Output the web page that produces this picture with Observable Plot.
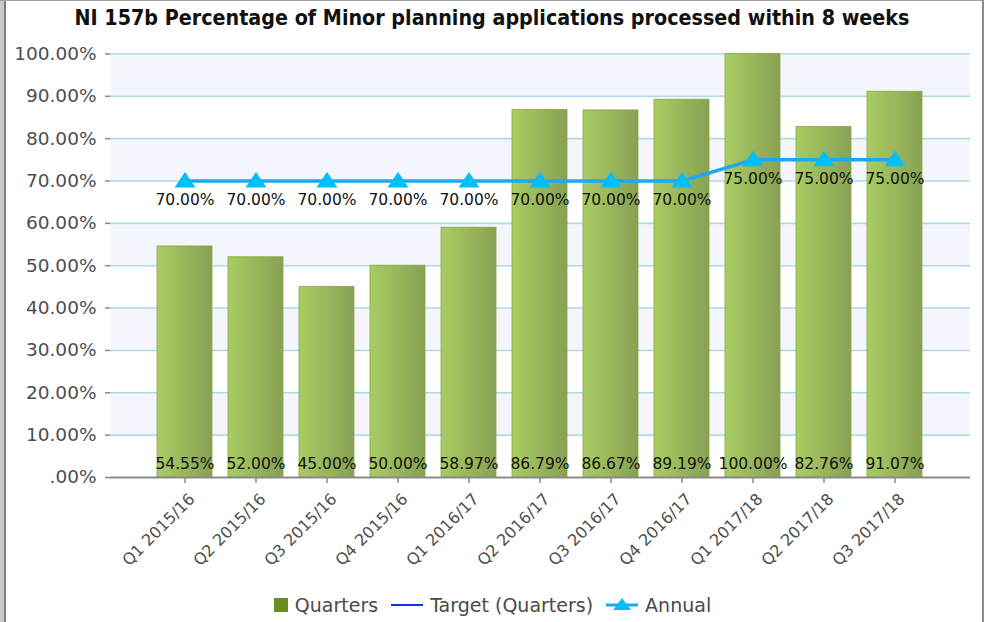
<!DOCTYPE html>
<html>
<head>
<meta charset="utf-8">
<script src="https://cdn.jsdelivr.net/npm/d3@7"></script>
<script src="https://cdn.jsdelivr.net/npm/@observablehq/plot@0.6"></script>
<style>
  html, body { margin: 0; padding: 0; background: #fff; }
  #wrap { position: relative; width: 984px; height: 622px; overflow: hidden; background: #fff; font-family: "DejaVu Sans", sans-serif; }
  #frameL1 { position: absolute; left: 0; top: 0; width: 4px; height: 622px; background: #c9c9c9; }
  #frameL2 { position: absolute; left: 4px; top: 0; width: 2px; height: 622px; background: #7d7d7d; }
  #frameT { position: absolute; left: 0; top: 0; width: 984px; height: 1px; background: #a0a0a0; }
  #frameR { position: absolute; right: 0; top: 0; width: 2px; height: 622px; background: #8c8c8c; }
  #title { position: absolute; left: 0; top: 5px; width: 984px; text-align: center; font-family: "DejaVu Sans Condensed", "DejaVu Sans", sans-serif; font-stretch: condensed; font-weight: bold; font-size: 21.3px; color: #111; white-space: nowrap; }
  #chart { position: absolute; left: 0; top: 0; }
  #legend { position: absolute; left: 0; top: 594px; width: 984px; display: flex; justify-content: center; align-items: center; font-size: 19px; color: #4a4a4a; white-space: nowrap; }
  #legend .item { display: flex; align-items: center; margin: 0 6px; }
  #legend svg { margin-right: 6px; }
</style>
</head>
<body>
<div id="wrap">
  <div id="chart"></div>
  <div id="title"></div>
  <div id="legend"></div>
  <div id="frameL1"></div><div id="frameL2"></div><div id="frameT"></div><div id="frameR"></div>
</div>
<script>
const titleText = "NI 157b Percentage of Minor planning applications processed within 8 weeks";
const categories = ["Q1 2015/16","Q2 2015/16","Q3 2015/16","Q4 2015/16","Q1 2016/17","Q2 2016/17","Q3 2016/17","Q4 2016/17","Q1 2017/18","Q2 2017/18","Q3 2017/18"];
const quarters = [54.55, 52.00, 45.00, 50.00, 58.97, 86.79, 86.67, 89.19, 100.00, 82.76, 91.07];
const annual = [70, 70, 70, 70, 70, 70, 70, 70, 75, 75, 75];
const yTicks = [0, 10, 20, 30, 40, 50, 60, 70, 80, 90, 100];
const seriesNames = ["Quarters", "Target (Quarters)", "Annual"];

const fmt = v => (v === 0 ? ".00" : v.toFixed(2)) + "%";

const rows = categories.map((c, i) => ({cat: c, q: quarters[i], a: annual[i]}));
const bands = yTicks.slice(0, -1).map((t, i) => ({y1: t, y2: yTicks[i + 1], odd: i % 2 === 1})).filter(d => d.odd);

const triangle = {
  draw(ctx, size) {
    ctx.moveTo(0, -9);
    ctx.lineTo(10.5, 6.5);
    ctx.lineTo(-10.5, 6.5);
    ctx.closePath();
  }
};

const W = 984, ML = 110, MR = 14;

const chart = Plot.plot({
  width: W,
  height: 580,
  marginLeft: ML,
  marginRight: MR,
  marginTop: 42,
  marginBottom: 103,
  style: {fontFamily: "DejaVu Sans, sans-serif", background: "transparent", overflow: "visible"},
  x: {type: "band", domain: categories, paddingInner: 0.22, paddingOuter: 0.61, axis: null, label: null},
  y: {type: "linear", domain: [0, 102.7], axis: null, label: null},
  marks: [
    Plot.rect(bands, {y1: "y1", y2: "y2", fill: "#f5f6fd"}),
    Plot.ruleY(yTicks.filter(t => t > 0), {stroke: "#abdce6", strokeWidth: 1.6}),
    Plot.barY(rows, {x: "cat", y: "q", fill: "url(#barGrad)", stroke: "#86a845", strokeOpacity: 0.8, strokeWidth: 1}),
    Plot.line(rows, {x: "cat", y: "a", stroke: "#1fa8f0", strokeWidth: 3.5}),
    Plot.dot(rows, {x: "cat", y: "a", symbol: triangle, r: 6, fill: "#00bff8", stroke: "none"}),
    Plot.text(rows, {x: "cat", y: "a", text: d => fmt(d.a), dy: 19, fontSize: 15.5, fill: "#111"}),
    Plot.text(rows, {x: "cat", y: () => 0, text: d => fmt(d.q), dy: -13, fontSize: 15.5, fill: "#111"}),
    Plot.axisY(yTicks, {tickFormat: fmt, tickSize: 5, tickPadding: 9, fontSize: 18.5, color: "#4d4d4d", stroke: "#8a8a8a", strokeWidth: 1.5, label: null}),
    Plot.ruleX([0], {dx: -(W - ML - MR) / 2, stroke: "#8a8a8a", strokeWidth: 2}),
    Plot.ruleY([0], {stroke: "#8a8a8a", strokeWidth: 2}),
    Plot.axisX(categories, {tickSize: 6, tickFormat: () => "", stroke: "#8a8a8a", strokeWidth: 1.5, label: null}),
    Plot.text(categories, {x: d => d, y: () => 0, text: d => d, rotate: -45, textAnchor: "end", dx: 7, dy: 19, fontSize: 16, fill: "#4d4d4d"})
  ]
});

// gradient for bars
const svgSel = d3.select(chart);
const defs = svgSel.insert("defs", ":first-child");
const grad = defs.append("linearGradient").attr("id", "barGrad").attr("x1", "0").attr("x2", "1").attr("y1", "0").attr("y2", "0");
grad.append("stop").attr("offset", "0").attr("stop-color", "#a9cc63");
grad.append("stop").attr("offset", "1").attr("stop-color", "#88a153");

document.getElementById("chart").appendChild(chart);
document.getElementById("title").textContent = titleText;

// legend
const legend = d3.select("#legend");
const it1 = legend.append("div").attr("class", "item");
it1.append("svg").attr("width", 16).attr("height", 16).append("rect").attr("x", 1).attr("y", 1).attr("width", 14).attr("height", 14).attr("fill", "#6b8e23");
it1.append("span").text(seriesNames[0]);
const it2 = legend.append("div").attr("class", "item");
it2.append("svg").attr("width", 34).attr("height", 16).append("line").attr("x1", 1).attr("x2", 33).attr("y1", 8).attr("y2", 8).attr("stroke", "#1a2bff").attr("stroke-width", 2);
it2.append("span").text(seriesNames[1]);
const it3 = legend.append("div").attr("class", "item");
const s3 = it3.append("svg").attr("width", 34).attr("height", 16);
s3.append("line").attr("x1", 1).attr("x2", 33).attr("y1", 8).attr("y2", 8).attr("stroke", "#1fa8f0").attr("stroke-width", 3);
s3.append("path").attr("d", "M17,1 L26,13 L8,13 Z").attr("fill", "#00bff8");
it3.append("span").text(seriesNames[2]);
</script>
</body>
</html>
